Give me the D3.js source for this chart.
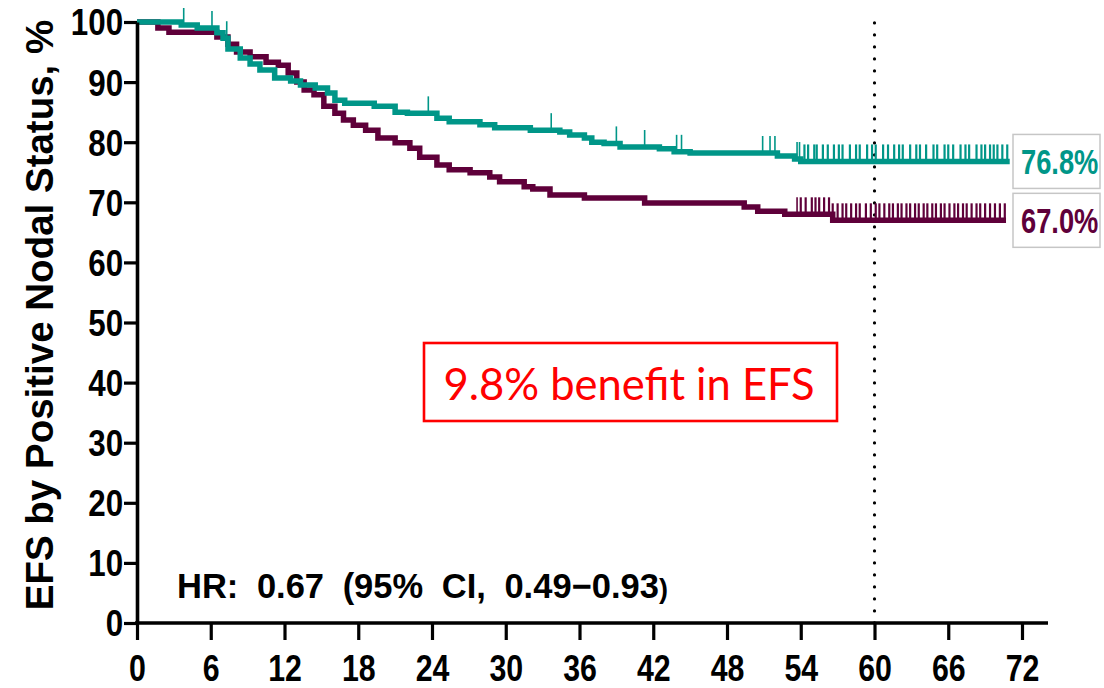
<!DOCTYPE html>
<html lang="en">
<head>
  <meta charset="UTF-8" />
  <title>EFS by Positive Nodal Status</title>
  <style>
    html, body { margin: 0; padding: 0; background: #fff; }
    svg { display: block; }
    .tick text { font-family: "Liberation Sans", Arial, sans-serif; font-weight: bold; fill: #000; }
  </style>
</head>
<body>
  <svg width="1104" height="688"></svg>
  <script src="https://d3js.org/d3.v7.min.js"></script>
  <script>
    // x axis ticks (months) and y axis ticks (%)
    const monthTicks = [0, 6, 12, 18, 24, 30, 36, 42, 48, 54, 60, 66, 72];
    const pctTicks = [0, 10, 20, 30, 40, 50, 60, 70, 80, 90, 100];

    // Kaplan-Meier steps: [month, EFS %]
    const tealSteps = [
      [0, 100], [3.6, 99.5], [4.9, 99], [6.5, 98.2], [7.0, 97.3], [7.4, 95.5], [8.4, 94],
      [9.2, 93], [10, 92], [11.2, 90.7], [12.5, 90.2], [13.3, 89.5], [14.5, 89], [15.5, 88.2],
      [16.1, 87], [16.9, 86.5], [19.3, 86], [21, 85], [22, 84.8], [24.4, 84], [25.4, 83.4],
      [27.9, 82.9], [29.1, 82.4], [32, 82], [34.4, 81.7], [35.2, 81.2], [36.4, 80.7], [37, 80],
      [38, 79.8], [39.3, 79.2], [42.5, 78.9], [43.7, 78.4], [45, 78.2], [52.1, 77.7],
      [53.5, 77.2], [54.0, 76.8], [71, 76.8]
    ];
    const purpleSteps = [
      [0, 100], [1.7, 99], [2.6, 98.3], [6.5, 97.5], [7.4, 96.3], [8.1, 95], [9.2, 94.2],
      [10.5, 93.3], [11.5, 92.8], [12.3, 91.5], [13, 90], [13.6, 88.7], [14.4, 87.9], [15.2, 86],
      [16.1, 84.8], [16.8, 83.7], [17.6, 82.8], [18.6, 82], [19.6, 80.7], [21, 79.9], [22.2, 79],
      [23, 77.5], [24.4, 76.2], [25.4, 75.4], [27.1, 74.9], [28.7, 74.2], [29.5, 73.4],
      [31.5, 72.6], [32.2, 72.2], [33.6, 71.2], [36.4, 70.7], [41.3, 69.9], [49.4, 69.2],
      [50.5, 68.5], [52.7, 68.0], [56.6, 67.0], [70.7, 67.0]
    ];

    // censored observations (months)
    const tealCensored = [
      3.8, 6.1, 7.3, 23.7, 33.7, 39.0, 41.3, 43.9, 44.3, 50.9, 51.5, 51.9, 53.7, 53.9,
      54.3, 54.6, 55.1, 55.3, 55.8, 56.2, 56.7, 57.1, 57.4, 58.0, 58.5, 58.8, 59.4, 59.8,
      60.1, 60.7, 61.1, 61.6, 62.0, 62.3, 62.9, 63.4, 63.7, 64.2, 64.8, 65.1, 65.7, 66.0,
      66.4, 67.0, 67.4, 67.7, 68.3, 68.7, 69.0, 69.4, 69.7, 70.0, 70.4, 70.8
    ];
    const purpleCensored = [
      53.7, 54.0, 54.4, 54.9, 55.2, 55.5, 55.9, 56.3, 56.6, 57.0, 57.4, 57.7, 58.1, 58.5,
      58.8, 59.3, 59.7, 60.1, 60.4, 60.8, 61.2, 61.5, 61.9, 62.2, 62.6, 62.9, 63.3, 63.6,
      64.0, 64.3, 64.7, 65.0, 65.4, 65.7, 66.1, 66.5, 66.8, 67.2, 67.5, 67.9, 68.3, 68.6,
      69.0, 69.4, 69.8, 70.2, 70.6
    ];

    const landmark = 60;
    const endLabels = [
      { text: "76.8%", value: 76.8, color: "#009688" },
      { text: "67.0%", value: 67.0, color: "#5f003a" }
    ];

    const TEAL = "#009688", PURPLE = "#5f003a";

    const svg = d3.select("svg");
    const x = d3.scaleLinear().domain([0, 72]).range([137, 1022]);
    const y = d3.scaleLinear().domain([0, 100]).range([623, 22]);

    // value of a step curve at time t
    function stepAt(steps, t) {
      let v = steps[0][1];
      for (const s of steps) { if (s[0] <= t) v = s[1]; else break; }
      return v;
    }

    // dotted landmark line
    svg.append("line")
      .attr("x1", x(landmark)).attr("x2", x(landmark))
      .attr("y1", y(0)).attr("y2", y(100) - 2)
      .attr("stroke", "#000")
      .attr("stroke-width", 3.2)
      .attr("stroke-linecap", "round")
      .attr("stroke-dasharray", "0.1 11.9");

    const line = d3.line()
      .x(d => x(d[0]))
      .y(d => y(d[1]))
      .curve(d3.curveStepAfter);

    function drawArm(steps, censored, color) {
      const g = svg.append("g");
      g.append("path")
        .datum(steps)
        .attr("d", line)
        .attr("fill", "none")
        .attr("stroke", color)
        .attr("stroke-width", 5.5);
      g.selectAll("line.cens")
        .data(censored)
        .join("line")
        .attr("class", "cens")
        .attr("x1", d => x(d)).attr("x2", d => x(d))
        .attr("y1", d => y(stepAt(steps, d)))
        .attr("y2", d => y(stepAt(steps, d)) - 17)
        .attr("stroke", color)
        .attr("stroke-width", d => d >= 54 ? 2.2 : 1.6);
    }
    drawArm(purpleSteps, purpleCensored, PURPLE);
    drawArm(tealSteps, tealCensored, TEAL);

    // axes
    const xAxis = svg.append("g")
      .attr("transform", `translate(0,${y(0)})`)
      .call(d3.axisBottom(x).tickValues(monthTicks).tickSize(17).tickSizeOuter(0).tickPadding(15));
    xAxis.select(".domain").remove();
    xAxis.selectAll(".tick line").attr("stroke-width", 3.2);
    xAxis.selectAll(".tick text")
      .style("font-size", "37px")
      .attr("transform", "scale(0.82,1)")
      .attr("dy", "0.71em");
    xAxis.append("line")
      .attr("x1", x(0) - 2).attr("x2", x(72) + 26)
      .attr("stroke", "#000").attr("stroke-width", 3.6);

    const yAxis = svg.append("g")
      .attr("transform", `translate(${x(0)},0)`)
      .call(d3.axisLeft(y).tickValues(pctTicks).tickSize(13).tickSizeOuter(0).tickPadding(3));
    yAxis.select(".domain").attr("stroke-width", 3.6);
    yAxis.selectAll(".tick line").attr("stroke-width", 3.2);
    yAxis.selectAll(".tick text")
      .style("font-size", "36px")
      .attr("transform", "scale(0.87,1)")
      .attr("dy", "0.36em");

    // y axis title
    svg.append("text")
      .attr("transform", `translate(53,315) rotate(-90)`)
      .attr("text-anchor", "middle")
      .style("font-family", "'Liberation Sans', Arial, sans-serif")
      .style("font-weight", "bold")
      .style("font-size", "38.5px")
      .text("EFS by Positive Nodal Status, %");

    // end-of-curve value boxes
    const lab = svg.append("g").selectAll("g").data(endLabels).join("g")
      .attr("transform", d => `translate(1013,${y(d.value) - 27})`);
    lab.append("rect")
      .attr("width", 87).attr("height", 54)
      .attr("fill", "#fff")
      .attr("stroke", "#c6c6c6").attr("stroke-width", 1.5);
    lab.append("text")
      .attr("transform", "translate(8,40) scale(0.78,1)")
      .attr("fill", d => d.color)
      .style("font-family", "'Liberation Sans', Arial, sans-serif")
      .style("font-weight", "bold")
      .style("font-size", "35px")
      .text(d => d.text);

    // highlighted benefit box
    svg.append("rect")
      .attr("x", 424).attr("y", 343).attr("width", 413).attr("height", 78)
      .attr("fill", "#fff").attr("stroke", "#ff0000").attr("stroke-width", 2.6);
    svg.append("text")
      .attr("x", 629).attr("y", 400)
      .attr("text-anchor", "middle")
      .attr("fill", "#ff0000")
      .style("font-family", "Lato, 'Open Sans', sans-serif")
      .style("font-size", "43.5px")
      .text("9.8% benefit in EFS");

    // hazard ratio
    const hr = svg.append("text")
      .attr("x", 177).attr("y", 598)
      .style("font-family", "'Liberation Sans', Arial, sans-serif")
      .style("font-weight", "bold")
      .style("font-size", "34.5px")
      .style("word-spacing", "9px");
    hr.append("tspan").text("HR: 0.67 (95% CI, 0.49\u22120.93");
    hr.append("tspan").style("font-size", "27px").text(")");
  </script>
</body>
</html>
